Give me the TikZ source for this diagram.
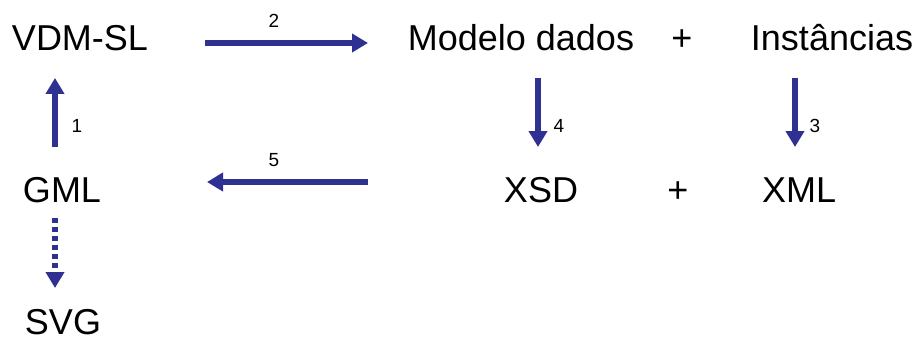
\documentclass[tikz,border=0pt]{standalone}
\usepackage{fontspec}
\setmainfont{Liberation Sans}
\usetikzlibrary{arrows.meta}
\definecolor{arrblue}{RGB}{46,49,146}
\begin{document}
\begin{tikzpicture}[x=1pt,y=-1pt,
  big/.style={inner sep=0pt,anchor=base,font=\fontsize{36}{40}\selectfont},
  lbl/.style={inner sep=0pt,font=\fontsize{19}{21}\selectfont},
  arr/.style={draw=arrblue,line width=5.5pt,-{Triangle[length=16pt,width=18pt]}},
  dotarr/.style={arr,dash pattern=on 4.5pt off 4.5pt}]
\useasboundingbox (0,0) rectangle (920,342);
% texts
\node[big] (vdm) at (80,51) {VDM-SL};
\node[big] (mod) at (521,51) {Modelo dados};
\node[big] (plus1) at (682,51) {+};
\node[big] (inst) at (832,51) {Instâncias};
\node[big] (gml) at (62,202) {GML};
\node[big] (xsd) at (541,202) {XSD};
\node[big] (plus2) at (678,202) {+};
\node[big] (xml) at (799,202) {XML};
\node[big] (svg) at (63,334) {SVG};
% arrow end points
\coordinate (a1s) at (55,147); \coordinate (a1e) at (55,78);
\coordinate (a2s) at (205,43); \coordinate (a2e) at (368,43);
\coordinate (a3s) at (795,78); \coordinate (a3e) at (795,147);
\coordinate (a4s) at (538,78); \coordinate (a4e) at (538,147);
\coordinate (a5s) at (368,182); \coordinate (a5e) at (207,182);
\coordinate (a6s) at (55,218); \coordinate (a6e) at (55,288);
% arrows
\draw[arr] (a1s) -- (a1e);
\draw[arr] (a2s) -- (a2e);
\draw[arr] (a3s) -- (a3e);
\draw[arr] (a4s) -- (a4e);
\draw[arr] (a5s) -- (a5e);
\draw[dotarr] (a6s) -- (a6e);
% labels
\node[lbl] (l1) at (77,126) {1};
\node[lbl] (l2) at (274,21) {2};
\node[lbl] (l3) at (815,126) {3};
\node[lbl] (l4) at (559,126) {4};
\node[lbl] (l5) at (274,160) {5};
\end{tikzpicture}
\end{document}
